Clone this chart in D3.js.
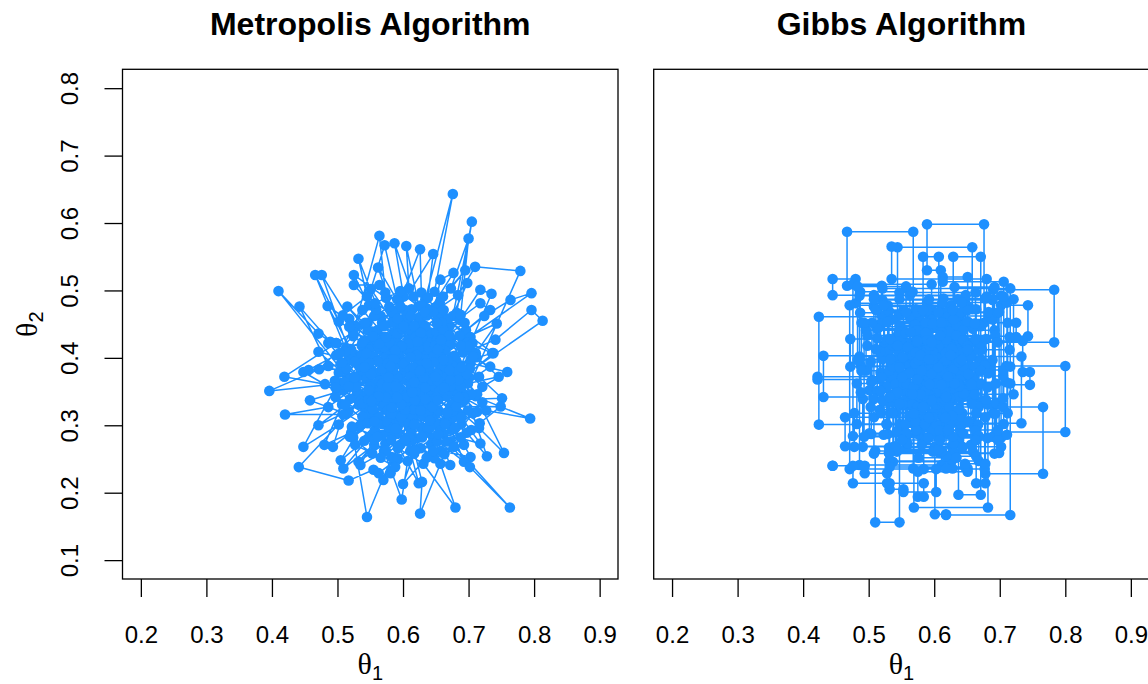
<!DOCTYPE html>
<html>
<head>
<meta charset="utf-8">
<script src="https://cdn.jsdelivr.net/npm/d3@7"></script>
<style>
    body { margin: 0; background: #ffffff; }
</style>
</head>
<body>
<div id="chart"></div>
<script>
// panel titles and axis ticks
const PANEL_TITLES = ["Metropolis Algorithm", "Gibbs Algorithm"];
const X_LIMITS = [0.2, 0.9];
const Y_LIMITS = [0.1, 0.8];
const X_TICKS = [0.2, 0.3, 0.4, 0.5, 0.6, 0.7, 0.8, 0.9];
const Y_TICKS = [0.1, 0.2, 0.3, 0.4, 0.5, 0.6, 0.7, 0.8];

// Metropolis chain, one [theta1, theta2] per iteration
const metropolisDraws = [
    [0.612,0.402],[0.634,0.365],[0.581,0.418],[0.622,0.451],[0.664,0.392],[0.609,0.331],[0.571,0.372],[0.641,0.413],[0.592,0.298],[0.553,0.347],
    [0.603,0.384],[0.672,0.428],[0.701,0.371],[0.652,0.322],[0.618,0.281],[0.579,0.334],[0.532,0.389],[0.561,0.441],[0.613,0.472],[0.648,0.498],
    [0.676,0.643],[0.634,0.487],[0.594,0.452],[0.544,0.411],[0.503,0.362],[0.396,0.351],[0.472,0.383],[0.524,0.432],[0.573,0.401],[0.621,0.368],
    [0.662,0.344],[0.689,0.302],[0.721,0.334],[0.683,0.381],[0.631,0.424],[0.598,0.352],[0.562,0.313],[0.524,0.282],[0.545,0.164],[0.583,0.253],
    [0.627,0.297],[0.658,0.262],[0.703,0.253],[0.672,0.308],[0.641,0.351],[0.607,0.413],[0.566,0.462],[0.532,0.547],[0.548,0.478],[0.587,0.437],
    [0.629,0.391],[0.667,0.418],[0.705,0.602],[0.682,0.467],[0.645,0.432],[0.603,0.395],[0.558,0.356],[0.517,0.321],[0.471,0.300],[0.527,0.341],
    [0.571,0.387],[0.614,0.431],[0.653,0.461],[0.691,0.428],[0.743,0.451],[0.711,0.407],[0.669,0.372],[0.628,0.337],[0.588,0.312],[0.549,0.283],
    [0.509,0.236],[0.556,0.271],[0.604,0.308],[0.646,0.282],[0.693,0.246],[0.674,0.293],[0.637,0.331],[0.596,0.367],[0.557,0.398],[0.513,0.412],
    [0.466,0.523],[0.502,0.454],[0.547,0.426],[0.592,0.392],[0.638,0.361],[0.681,0.338],[0.751,0.340],[0.716,0.372],[0.674,0.401],[0.633,0.444],
    [0.587,0.570],[0.601,0.491],[0.568,0.452],[0.527,0.403],[0.486,0.422],[0.531,0.373],[0.577,0.343],[0.619,0.318],[0.662,0.287],[0.718,0.273],
    [0.684,0.318],[0.642,0.376],[0.608,0.428],[0.574,0.489],[0.525,0.523],[0.556,0.462],[0.597,0.419],[0.639,0.383],[0.678,0.356],[0.713,0.320],
    [0.667,0.343],[0.626,0.372],[0.589,0.404],[0.548,0.366],[0.497,0.342],[0.543,0.317],[0.581,0.289],[0.624,0.214],[0.611,0.262],[0.651,0.301],
    [0.694,0.337],[0.657,0.381],[0.612,0.358],[0.569,0.328],[0.533,0.297],[0.571,0.262],[0.598,0.190],[0.607,0.247],[0.643,0.272],[0.677,0.312],
    [0.637,0.408],[0.593,0.441],[0.551,0.502],[0.572,0.567],[0.591,0.487],[0.627,0.458],[0.664,0.437],[0.698,0.511],[0.676,0.462],[0.643,0.418],
    [0.604,0.386],[0.566,0.351],[0.528,0.362],[0.486,0.388],[0.442,0.476],[0.489,0.424],[0.536,0.403],[0.582,0.377],[0.629,0.352],[0.672,0.327],
    [0.749,0.328],[0.704,0.293],[0.663,0.257],[0.626,0.169],[0.629,0.216],[0.613,0.278],[0.579,0.311],[0.538,0.343],[0.502,0.378],[0.547,0.397],
    [0.588,0.423],[0.631,0.402],[0.671,0.447],[0.718,0.481],[0.733,0.471],[0.696,0.441],[0.657,0.407],[0.618,0.376],[0.584,0.349],[0.548,0.318],
    [0.505,0.248],[0.541,0.277],[0.586,0.301],[0.622,0.327],[0.663,0.362],[0.703,0.392],[0.759,0.379],[0.721,0.357],[0.681,0.396],[0.642,0.427],
    [0.605,0.462],[0.562,0.534],[0.583,0.471],[0.618,0.443],[0.656,0.482],[0.695,0.530],[0.661,0.491],[0.626,0.461],[0.587,0.428],[0.546,0.387],
    [0.509,0.352],[0.458,0.337],[0.513,0.317],[0.557,0.292],[0.592,0.266],[0.631,0.243],[0.680,0.178],[0.657,0.243],[0.636,0.289],[0.599,0.322],
    [0.563,0.366],[0.521,0.401],[0.476,0.523],[0.518,0.458],[0.557,0.417],[0.601,0.378],[0.644,0.346],[0.687,0.372],[0.728,0.254],[0.697,0.289],
    [0.654,0.322],[0.612,0.346],[0.573,0.378],[0.537,0.418],[0.498,0.422],[0.546,0.452],[0.589,0.468],[0.626,0.561],[0.628,0.497],[0.661,0.462],
    [0.703,0.431],[0.738,0.407],[0.694,0.372],[0.652,0.338],[0.609,0.298],[0.573,0.273],[0.532,0.246],[0.568,0.286],[0.604,0.331],[0.642,0.372],
    [0.678,0.403],[0.641,0.438],[0.603,0.471],[0.564,0.508],[0.525,0.508],[0.559,0.472],[0.597,0.444],[0.635,0.412],[0.673,0.378],[0.711,0.343],
    [0.754,0.259],[0.716,0.296],[0.676,0.331],[0.637,0.358],[0.601,0.387],[0.562,0.421],[0.515,0.476],[0.553,0.439],[0.594,0.403],[0.633,0.373],
    [0.671,0.352],[0.707,0.318],[0.672,0.276],[0.636,0.252],[0.600,0.213],[0.617,0.258],[0.591,0.287],[0.556,0.318],[0.519,0.339],[0.448,0.379],
    [0.505,0.391],[0.548,0.412],[0.592,0.436],[0.636,0.463],[0.677,0.526],[0.657,0.516],[0.648,0.473],[0.612,0.441],[0.576,0.412],[0.539,0.381],
    [0.496,0.366],[0.533,0.331],[0.569,0.302],[0.608,0.276],[0.648,0.251],[0.693,0.271],[0.666,0.307],[0.628,0.342],[0.592,0.371],[0.553,0.402],
    [0.498,0.422],[0.419,0.372],[0.481,0.361],[0.529,0.352],[0.571,0.332],[0.614,0.311],[0.657,0.292],[0.763,0.178],[0.702,0.238],[0.667,0.276],
    [0.631,0.313],[0.594,0.344],[0.558,0.377],[0.521,0.412],[0.485,0.477],[0.529,0.447],[0.571,0.431],[0.614,0.409],[0.657,0.386],[0.699,0.362],
    [0.746,0.372],[0.712,0.401],[0.673,0.421],[0.634,0.447],[0.596,0.476],[0.646,0.554],[0.638,0.489],[0.606,0.452],[0.571,0.423],[0.533,0.392],
    [0.493,0.268],[0.536,0.301],[0.577,0.323],[0.619,0.351],[0.661,0.373],[0.703,0.397],[0.736,0.407],[0.698,0.423],[0.659,0.441],[0.619,0.419],
    [0.582,0.398],[0.544,0.368],[0.507,0.331],[0.480,0.271],[0.521,0.289],[0.563,0.313],[0.606,0.336],[0.648,0.357],[0.689,0.351],[0.794,0.310],
    [0.727,0.322],[0.684,0.346],[0.643,0.367],[0.602,0.392],[0.563,0.417],[0.524,0.438],[0.564,0.581],[0.573,0.497],[0.612,0.462],[0.652,0.427],
    [0.692,0.408],[0.733,0.387],[0.688,0.357],[0.647,0.326],[0.607,0.302],[0.570,0.219],[0.581,0.229],[0.596,0.271],[0.638,0.296],[0.676,0.321],
    [0.713,0.346],[0.677,0.388],[0.638,0.416],[0.599,0.443],[0.559,0.427],[0.517,0.397],[0.471,0.409],[0.516,0.371],[0.558,0.341],[0.601,0.317],
    [0.642,0.338],[0.685,0.381],[0.735,0.495],[0.718,0.501],[0.687,0.456],[0.649,0.418],[0.611,0.383],[0.573,0.358],[0.535,0.336],[0.441,0.238],
    [0.517,0.218],[0.555,0.234],[0.563,0.229],[0.592,0.251],[0.629,0.282],[0.667,0.318],[0.704,0.346],[0.665,0.371],[0.624,0.393],[0.585,0.417],
    [0.546,0.441],[0.508,0.463],[0.545,0.491],[0.586,0.462],[0.625,0.437],[0.664,0.411],[0.702,0.384],[0.672,0.358],[0.633,0.332],[0.595,0.306],
    [0.556,0.279],[0.535,0.241],[0.574,0.262],[0.612,0.292],[0.651,0.318],[0.693,0.341],[0.779,0.529],[0.710,0.535],[0.684,0.493],[0.646,0.468],
    [0.608,0.442],[0.571,0.416],[0.534,0.388],[0.497,0.356],[0.448,0.268],[0.502,0.301],[0.541,0.327],[0.579,0.352],[0.618,0.378],[0.657,0.401],
    [0.796,0.496],[0.764,0.486],[0.724,0.462],[0.686,0.433],[0.647,0.402],[0.611,0.372],[0.574,0.341],[0.538,0.313],[0.578,0.297],[0.617,0.323],
    [0.656,0.351],[0.697,0.376],[0.813,0.455],[0.796,0.471],[0.741,0.427],[0.703,0.411],[0.663,0.388],[0.625,0.363],[0.587,0.336],[0.551,0.361],
    [0.514,0.384],[0.456,0.382],[0.498,0.404],[0.541,0.426],[0.583,0.452],[0.624,0.477],[0.605,0.566],[0.609,0.503],[0.584,0.468],[0.619,0.431],
    [0.582,0.378],[0.546,0.347],[0.509,0.316],[0.420,0.316],[0.486,0.327],[0.528,0.358],[0.568,0.384],[0.612,0.409],[0.651,0.439],[0.688,0.464],
    [0.700,0.577],[0.673,0.503],[0.637,0.473],[0.601,0.447],[0.564,0.421],[0.526,0.394],[0.564,0.366],[0.603,0.339],[0.643,0.311],[0.672,0.241],
    [0.627,0.266],[0.589,0.295],[0.551,0.327],[0.513,0.358],[0.551,0.382],[0.591,0.407],[0.629,0.431],[0.668,0.458],[0.706,0.422],[0.668,0.396],
    [0.631,0.371],[0.594,0.348],[0.556,0.336],[0.518,0.368],[0.410,0.499],[0.471,0.436],[0.512,0.409],[0.553,0.381],[0.593,0.356],[0.634,0.332],
    [0.588,0.362],[0.623,0.392],[0.655,0.415],[0.617,0.447],[0.579,0.423],[0.541,0.397],[0.568,0.362],[0.604,0.341],[0.638,0.318],[0.679,0.296],
    [0.645,0.327],[0.613,0.361],[0.576,0.392],[0.538,0.423],[0.571,0.447],[0.609,0.421],[0.647,0.393],[0.684,0.367],[0.651,0.342],[0.616,0.302],
    [0.582,0.278],[0.546,0.303],[0.512,0.331],[0.549,0.357],[0.586,0.386],[0.624,0.414],[0.661,0.443],[0.699,0.417],[0.662,0.397],[0.627,0.378],
    [0.591,0.352],[0.554,0.324],[0.522,0.298],[0.561,0.283],[0.597,0.312],[0.634,0.339],[0.672,0.367],[0.636,0.392],[0.598,0.417],[0.561,0.395],
    [0.526,0.371],[0.563,0.343],[0.603,0.323],[0.641,0.296],[0.678,0.268],[0.646,0.262],[0.609,0.283],[0.574,0.306],[0.538,0.332],[0.577,0.358],
    [0.616,0.386],[0.653,0.412],[0.689,0.386],[0.653,0.366],[0.618,0.337],[0.582,0.317],[0.547,0.338],[0.511,0.364],[0.549,0.392],[0.588,0.411],
    [0.627,0.437],[0.662,0.471],[0.628,0.478],[0.592,0.458],[0.554,0.432],[0.518,0.446],[0.557,0.481],[0.596,0.499],[0.633,0.468],[0.671,0.433],
    [0.707,0.402],[0.671,0.382],[0.634,0.356],[0.597,0.331],[0.561,0.303],[0.527,0.271],[0.566,0.252],[0.603,0.278],[0.641,0.307],[0.681,0.328],
    [0.717,0.303],[0.688,0.282],[0.652,0.276],[0.618,0.301],[0.583,0.326],[0.548,0.352],[0.584,0.381],[0.621,0.404],[0.658,0.427],[0.694,0.452],
    [0.659,0.452],[0.622,0.424],[0.586,0.398],[0.551,0.376],[0.517,0.357],[0.552,0.336],[0.589,0.358],[0.626,0.381],[0.663,0.356],[0.699,0.322],
    [0.664,0.302],[0.627,0.322],[0.591,0.341],[0.556,0.306],[0.519,0.283],[0.553,0.258],[0.588,0.238],[0.618,0.262],[0.654,0.287],[0.689,0.312],
    [0.653,0.337],[0.617,0.364],[0.581,0.388],[0.544,0.407],[0.507,0.393],[0.542,0.452],[0.579,0.476],[0.616,0.491],[0.652,0.451],[0.688,0.418],
    [0.652,0.376],[0.614,0.349],[0.578,0.371],[0.541,0.386],[0.503,0.407],[0.538,0.471],[0.574,0.431],[0.611,0.401],[0.649,0.372],[0.685,0.341]
];

// Gibbs chain, one [theta1, theta2] per full sweep
const gibbsDraws = [
    [0.602,0.384],[0.571,0.352],[0.628,0.417],[0.553,0.298],[0.661,0.371],[0.594,0.446],[0.517,0.323],[0.638,0.278],[0.582,0.395],[0.612,0.463],
    [0.546,0.412],[0.673,0.336],[0.608,0.259],[0.531,0.371],[0.589,0.482],[0.647,0.402],[0.564,0.331],[0.692,0.441],[0.623,0.352],[0.501,0.288],
    [0.578,0.431],[0.610,0.530],[0.589,0.598],[0.676,0.452],[0.621,0.376],[0.558,0.268],[0.643,0.318],[0.597,0.419],[0.524,0.462],[0.520,0.507],
    [0.467,0.587],[0.568,0.421],[0.633,0.343],[0.579,0.287],[0.504,0.364],[0.654,0.408],[0.612,0.297],[0.548,0.387],[0.683,0.462],[0.593,0.334],
    [0.537,0.246],[0.626,0.391],[0.572,0.472],[0.664,0.358],[0.601,0.268],[0.491,0.339],[0.584,0.411],[0.645,0.451],[0.518,0.378],[0.607,0.318],
    [0.690,0.501],[0.783,0.423],[0.652,0.352],[0.566,0.304],[0.629,0.261],[0.543,0.432],[0.614,0.488],[0.678,0.392],[0.557,0.347],[0.601,0.168],
    [0.618,0.167],[0.716,0.362],[0.587,0.428],[0.642,0.301],[0.528,0.357],[0.595,0.449],[0.668,0.327],[0.611,0.241],[0.486,0.402],[0.574,0.463],
    [0.639,0.371],[0.557,0.282],[0.702,0.478],[0.743,0.432],[0.621,0.393],[0.542,0.318],[0.598,0.261],[0.659,0.443],[0.513,0.412],[0.588,0.341],
    [0.633,0.456],[0.569,0.178],[0.682,0.331],[0.604,0.402],[0.531,0.469],[0.621,0.287],[0.575,0.376],[0.648,0.493],[0.508,0.312],[0.597,0.364],
    [0.710,0.388],[0.800,0.290],[0.695,0.332],[0.612,0.421],[0.559,0.352],[0.627,0.268],[0.538,0.398],[0.671,0.447],[0.584,0.313],[0.641,0.381],
    [0.496,0.441],[0.583,0.550],[0.607,0.443],[0.552,0.331],[0.618,0.254],[0.664,0.361],[0.572,0.416],[0.626,0.478],[0.529,0.287],[0.601,0.373],
    [0.705,0.327],[0.766,0.228],[0.678,0.312],[0.593,0.389],[0.547,0.448],[0.634,0.347],[0.581,0.271],[0.656,0.402],[0.523,0.336],[0.612,0.481],
    [0.480,0.517],[0.445,0.493],[0.563,0.402],[0.619,0.319],[0.537,0.374],[0.597,0.457],[0.689,0.397],[0.568,0.236],[0.628,0.351],[0.513,0.429],
    [0.637,0.197],[0.671,0.362],[0.589,0.297],[0.552,0.418],[0.622,0.462],[0.578,0.342],[0.643,0.267],[0.531,0.381],[0.604,0.412],[0.667,0.301],
    [0.424,0.461],[0.562,0.378],[0.618,0.427],[0.543,0.291],[0.596,0.353],[0.651,0.476],[0.508,0.339],[0.629,0.383],[0.571,0.449],[0.612,0.262],
    [0.510,0.156],[0.547,0.302],[0.603,0.368],[0.658,0.423],[0.574,0.318],[0.536,0.457],[0.629,0.401],[0.591,0.281],[0.681,0.356],[0.562,0.411],
    [0.544,0.564],[0.658,0.472],[0.596,0.337],[0.521,0.398],[0.614,0.292],[0.573,0.441],[0.644,0.388],[0.488,0.349],[0.607,0.416],[0.559,0.273],
    [0.629,0.550],[0.671,0.382],[0.583,0.303],[0.733,0.402],[0.602,0.357],[0.548,0.426],[0.664,0.318],[0.519,0.371],[0.592,0.487],[0.636,0.342],
    [0.431,0.403],[0.567,0.331],[0.623,0.439],[0.546,0.264],[0.607,0.389],[0.677,0.235],[0.584,0.344],[0.651,0.454],[0.529,0.409],[0.598,0.312],
    [0.464,0.269],[0.541,0.361],[0.618,0.408],[0.572,0.293],[0.639,0.367],[0.505,0.452],[0.587,0.382],[0.705,0.340],[0.624,0.301],[0.556,0.437],
    [0.587,0.352],[0.552,0.401],[0.623,0.327],[0.574,0.468],[0.641,0.409],[0.518,0.351],[0.608,0.292],[0.663,0.387],[0.536,0.419],[0.596,0.376],
    [0.652,0.306],[0.571,0.392],[0.614,0.452],[0.489,0.381],[0.581,0.323],[0.637,0.361],[0.553,0.471],[0.628,0.283],[0.694,0.362],[0.603,0.427],
    [0.527,0.302],[0.586,0.408],[0.645,0.347],[0.564,0.438],[0.611,0.381],[0.671,0.421],[0.541,0.341],[0.619,0.397],[0.576,0.252],[0.634,0.433],
    [0.498,0.418],[0.593,0.361],[0.657,0.332],[0.547,0.386],[0.606,0.468],[0.683,0.377],[0.562,0.314],[0.627,0.413],[0.511,0.471],[0.589,0.426],
    [0.644,0.288],[0.558,0.362],[0.616,0.338],[0.679,0.428],[0.533,0.398],[0.598,0.451],[0.662,0.346],[0.579,0.404],[0.625,0.371],[0.551,0.278],
    [0.609,0.433],[0.693,0.317],[0.569,0.358],[0.638,0.394],[0.503,0.327],[0.583,0.471],[0.651,0.418],[0.544,0.349],[0.617,0.311],[0.592,0.398],
    [0.486,0.492],[0.702,0.268],[0.478,0.318],[0.712,0.452],[0.493,0.283],[0.689,0.486],[0.521,0.503],[0.716,0.387],[0.472,0.428],[0.663,0.497],
    [0.547,0.487],[0.706,0.302],[0.482,0.362],[0.631,0.505],[0.692,0.258],[0.508,0.487],[0.721,0.346],[0.567,0.498],[0.487,0.467],[0.697,0.423],
    [0.596,0.509],[0.476,0.284],[0.668,0.247],[0.531,0.259],[0.699,0.468],[0.557,0.506],[0.483,0.397],[0.642,0.482],[0.711,0.286],[0.523,0.478],
    [0.471,0.235],[0.603,0.201],[0.553,0.205],[0.532,0.342],[0.618,0.236],[0.651,0.231],[0.575,0.194],[0.584,0.214],[0.528,0.229],[0.494,0.240],
    [0.445,0.240],[0.476,0.214],[0.532,0.238],[0.647,0.243],[0.678,0.214],[0.664,0.278],[0.697,0.293],[0.621,0.372],[0.422,0.368],[0.574,0.425],
    [0.735,0.379],[0.746,0.360],[0.611,0.452],[0.725,0.431],[0.715,0.412],[0.651,0.520],[0.613,0.513],[0.706,0.491],[0.680,0.517],[0.535,0.565]
];

const WIDTH = 1148;
const HEIGHT = 684;
const PLOT_TOP = 69.3;
const PLOT_BOTTOM = 579;
const PANELS = [{left: 122.5, right: 618}, {left: 653.7, right: 1149.2}];
const POINT_COLOR = "#1E90FF";
const POINT_RADIUS = 5.3;
const LINE_WIDTH = 1.5;
const TICK_LENGTH = 18;
const SANS = "'Liberation Sans', Arial, Helvetica, sans-serif";
const SERIF = "'Liberation Serif', 'Times New Roman', serif";

// R style axis limits: 4% padding on each side
function padLimits(limits) {
    let pad = (limits[1] - limits[0]) * 0.04;
    return [limits[0] - pad, limits[1] + pad];
}

// Gibbs sampler updates theta1 then theta2, so every half-step is a point
function gibbsSteps(draws) {
    let steps = [draws[0]];
    for (let i = 1; i < draws.length; i++) {
        steps.push([draws[i][0], draws[i - 1][1]]);
        steps.push(draws[i]);
    }
    return steps;
}

let svg = d3.select("#chart")
    .append("svg")
    .attr("width", WIDTH)
    .attr("height", HEIGHT)
    .style("display", "block");

let y = d3.scaleLinear()
    .domain(padLimits(Y_LIMITS))
    .range([PLOT_BOTTOM, PLOT_TOP]);

function axisLabel(g, sub) {
    g.append("tspan")
        .style("font-family", SERIF)
        .style("font-size", "30px")
        .text("\u03b8");
    g.append("tspan")
        .attr("dy", 6)
        .style("font-family", SANS)
        .style("font-size", "20px")
        .text(sub);
}

function drawTracePanel(panel, title, points, showYAxis) {
    let x = d3.scaleLinear()
        .domain(padLimits(X_LIMITS))
        .range([panel.left, panel.right]);
    let cx = (panel.left + panel.right) / 2;

    svg.append("text")
        .attr("x", cx)
        .attr("y", 35)
        .attr("text-anchor", "middle")
        .style("font-family", SANS)
        .style("font-weight", "bold")
        .style("font-size", "32px")
        .text(title);

    // chain path, then the draws on top
    svg.append("path")
        .datum(points)
        .attr("fill", "none")
        .attr("stroke", POINT_COLOR)
        .attr("stroke-width", LINE_WIDTH)
        .attr("stroke-linejoin", "round")
        .attr("d", d3.line()
            .x(d => x(d[0]))
            .y(d => y(d[1])));

    svg.append("g")
        .selectAll("circle")
        .data(points)
        .enter()
        .append("circle")
        .attr("cx", d => x(d[0]))
        .attr("cy", d => y(d[1]))
        .attr("r", POINT_RADIUS)
        .attr("fill", POINT_COLOR);

    svg.append("rect")
        .attr("x", panel.left)
        .attr("y", PLOT_TOP)
        .attr("width", panel.right - panel.left)
        .attr("height", PLOT_BOTTOM - PLOT_TOP)
        .attr("fill", "none")
        .attr("stroke", "#000")
        .attr("stroke-width", 1.3);

    let xAxis = svg.append("g")
        .attr("transform", "translate(0," + PLOT_BOTTOM + ")")
        .call(d3.axisBottom(x)
            .tickValues(X_TICKS)
            .tickSize(TICK_LENGTH)
            .tickFormat(d3.format(".1f")));
    xAxis.select(".domain").remove();
    xAxis.selectAll("line").attr("stroke", "#000").attr("stroke-width", 1.3);
    xAxis.selectAll("text")
        .attr("y", 64)
        .attr("dy", 0)
        .style("font-family", SANS)
        .style("font-size", "24px")
        .attr("fill", "#000");

    svg.append("text")
        .attr("x", cx)
        .attr("y", 674)
        .attr("text-anchor", "middle")
        .call(axisLabel, "1");

    if (showYAxis) {
        let yAxis = svg.append("g")
            .attr("transform", "translate(" + panel.left + ",0)")
            .call(d3.axisLeft(y)
                .tickValues(Y_TICKS)
                .tickSize(TICK_LENGTH)
                .tickFormat(d3.format(".1f")));
        yAxis.select(".domain").remove();
        yAxis.selectAll("line").attr("stroke", "#000").attr("stroke-width", 1.3);
        yAxis.selectAll("text")
            .attr("transform", "rotate(-90)")
            .attr("x", 0)
            .attr("y", -(panel.left - 78))
            .attr("dy", 0)
            .attr("text-anchor", "middle")
            .style("font-family", SANS)
            .style("font-size", "24px")
            .attr("fill", "#000");

        svg.append("text")
            .attr("transform", "translate(37," + ((PLOT_TOP + PLOT_BOTTOM) / 2) + ") rotate(-90)")
            .attr("text-anchor", "middle")
            .call(axisLabel, "2");
    }
}

drawTracePanel(PANELS[0], PANEL_TITLES[0], metropolisDraws, true);
drawTracePanel(PANELS[1], PANEL_TITLES[1], gibbsSteps(gibbsDraws), false);
</script>
</body>
</html>
